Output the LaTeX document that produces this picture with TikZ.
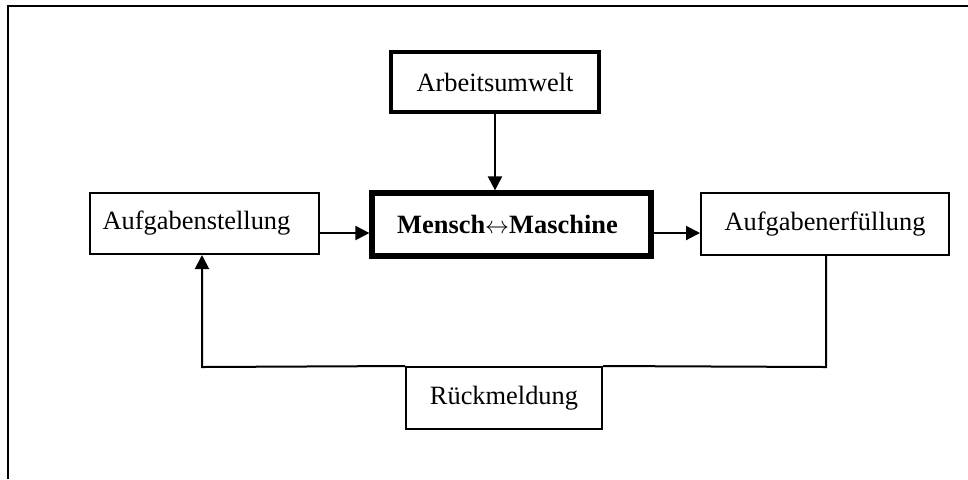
\documentclass[tikz,border=0pt]{standalone}
\usepackage{fontspec}
\setmainfont{Liberation Serif}
\usetikzlibrary{arrows.meta}
\begin{document}
\begin{tikzpicture}[x=0.5pt,y=-0.5pt,
  every node/.style={font=\fontsize{13.2pt}{16pt}\selectfont, inner sep=0pt, align=center},
  plainbox/.style={draw, line width=1pt},
  boldbox/.style={draw, line width=1.8pt},
  corebox/.style={draw, line width=2.6pt, font=\fontsize{13.2pt}{16pt}\selectfont\bfseries},
  arr/.style={line width=1pt, -{Triangle[length=7pt,width=7pt]}},
  link/.style={line width=1pt}]
  \useasboundingbox (0,0) rectangle (968,479);
  % frame edges
  \draw[line width=1pt] (8,479) -- (8,6) -- (968,6);
  % boxes
  \node[boldbox, minimum width=104pt, minimum height=30pt] (arb) at (495,82) {Arbeitsumwelt};
  \node[plainbox, minimum width=114.5pt, minimum height=30.5pt] (auf) at (204.5,223.5) {\hspace*{-8pt}Aufgabenstellung};
  \node[corebox, minimum width=139.5pt, minimum height=31.5pt] (mm) at (511.5,224.5) {\hspace*{-4pt}Mensch$\leftrightarrow$Maschine};
  \node[plainbox, minimum width=124pt, minimum height=31pt] (erf) at (825,224) {Aufgabenerfüllung};
  \node[plainbox, minimum width=98pt, minimum height=31pt] (rueck) at (504,398) {Rückmeldung};
  % connectors
  \coordinate (hy) at (0,233);
  \coordinate (fbR) at (826,367);
  \coordinate (fbL) at (202,367);
  \draw[arr] (arb.south) -- (arb.south |- mm.north);
  \draw[arr] (auf.east |- hy) -- (mm.west |- hy);
  \draw[arr] (mm.east |- hy) -- (erf.west |- hy);
  \draw[link] (erf.south -| fbR) -- (fbR) -- (rueck.north east);
  \draw[arr] (rueck.north west) -- (fbL) -- (auf.south -| fbL);
\end{tikzpicture}
\end{document}
